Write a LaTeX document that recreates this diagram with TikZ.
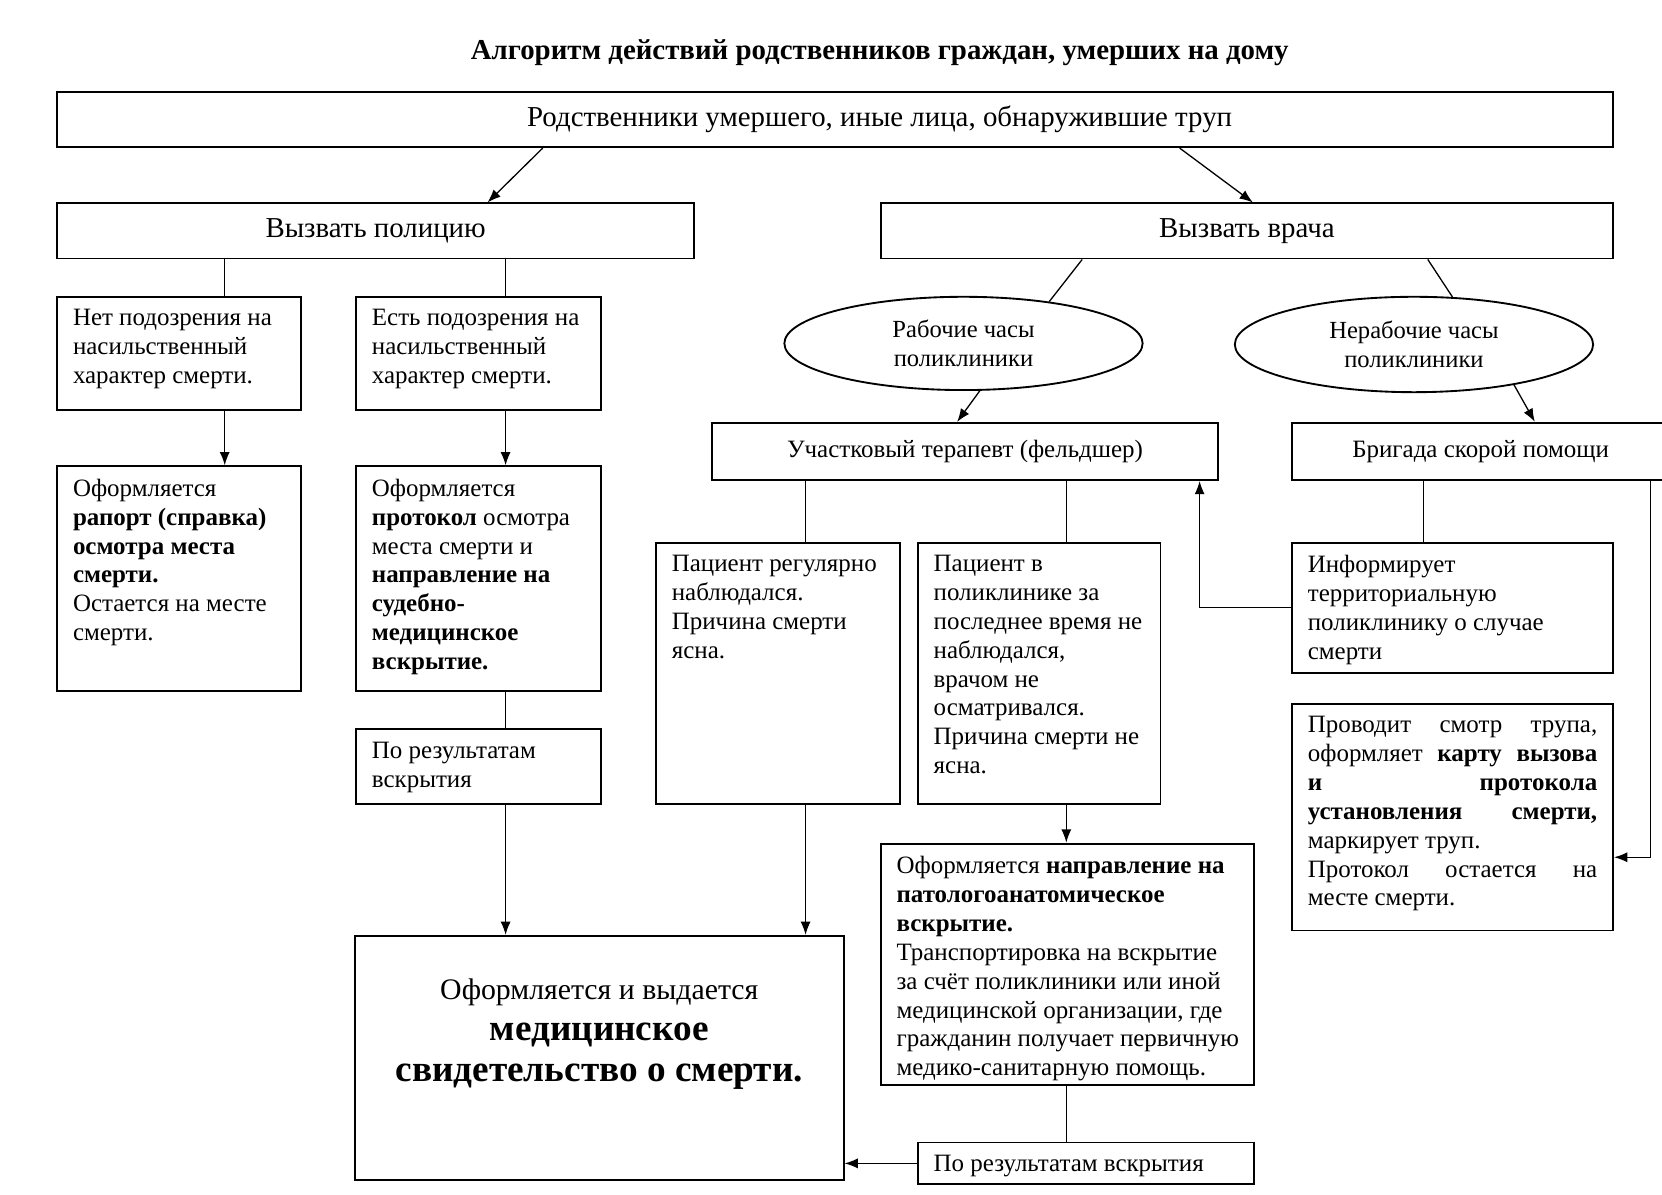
\documentclass[tikz,border=0pt]{standalone}
\usepackage{fontspec}
\setmainfont{Liberation Serif}
\usepackage{tikz}
\usetikzlibrary{shapes.geometric,calc,arrows.meta}

\newcommand{\boxtxt}[3]{\parbox[t][#2][t]{#1}{\raggedright\leftskip=3mm\rightskip=-3mm plus 1fil\relax #3}}
\newcommand{\jline}[1]{\makebox[54.6mm][s]{#1}}

\tikzset{
  block/.style={draw,line width=1pt,anchor=north west,inner xsep=0pt,inner ysep=2.4mm,font=\fontsize{13.4}{15.5}\selectfont},
  cblock/.style={draw,line width=1pt,anchor=north west,inner sep=0pt,font=\fontsize{15.5}{18}\selectfont},
  oval/.style={draw,ellipse,line width=1pt,inner sep=0pt,align=center,font=\fontsize{13.2}{15.8}\selectfont},
  arr/.style={line width=0.7pt,-{Latex[length=2.5mm,width=1.9mm]}},
  ln/.style={line width=0.7pt}
}

\begin{document}
\begin{tikzpicture}[x=0.2mm,y=-0.2mm]
\useasboundingbox (0,0) rectangle (1568,1127);
\clip (0,0) rectangle (1568,1127);

\node[font=\fontsize{15.5}{18}\selectfont\bfseries] (title) at (830,50) {Алгоритм действий родственников граждан, умерших на дому};

\node[cblock,minimum width=293.6mm,minimum height=10.4mm] (top) at (53,86) {\hspace*{16.8mm}Родственники умершего, иные лица, обнаружившие труп};
\node[cblock,minimum width=120.2mm,minimum height=10.4mm] (police) at (53,191) {Вызвать полицию};
\node[cblock,minimum width=138.2mm,minimum height=10.4mm] (doctor) at (830,191) {Вызвать врача};

% ветка полиции
\node[block] (nosusp) at (53,279) {\boxtxt{46mm}{16.6mm}{Нет подозрения на\\ насильственный\\ характер смерти.}};
\node[block] (susp) at (335,279) {\boxtxt{46.2mm}{16.6mm}{Есть подозрения на\\ насильственный\\ характер смерти.}};
\node[block] (report) at (53,439) {\boxtxt{46mm}{37.6mm}{Оформляется\\ \textbf{рапорт (справка)}\\ \textbf{осмотра места}\\ \textbf{смерти.}\\ Остается на месте\\ смерти.}};
\node[block] (protocol) at (335,439) {\boxtxt{46.2mm}{37.6mm}{Оформляется\\ \textbf{протокол} осмотра\\ места смерти и\\ \textbf{направление на}\\ \textbf{судебно-}\\ \textbf{медицинское}\\ \textbf{вскрытие.}}};
\node[block] (res1) at (335,687) {\boxtxt{46.2mm}{9.4mm}{По результатам\\ вскрытия}};
\node[block] (cert) at (334,882) {\boxtxt{92.2mm}{41.2mm}{\centering\vspace*{5.8mm}
  {\fontsize{16}{20}\selectfont Оформляется и выдается\par}
  {\fontsize{20}{22}\selectfont\bfseries медицинское\\ свидетельство о смерти.\par}}};

% ветка врача
\node[oval,minimum width=67.6mm,minimum height=17.6mm] (wk) at (909,324) {Рабочие часы\\ поликлиники};
\node[oval,minimum width=67.6mm,minimum height=18mm] (off) at (1334,325) {Нерабочие часы\\ поликлиники};
\node[cblock,font=\fontsize{13.4}{15.5}\selectfont,minimum width=95.4mm,minimum height=10.8mm] (ther) at (671,398) {Участковый терапевт (фельдшер)};
\node[cblock,font=\fontsize{13.4}{15.5}\selectfont,minimum width=71.2mm,minimum height=10.8mm] (amb) at (1218,398) {Бригада скорой помощи};
\node[block] (regular) at (618,511) {\boxtxt{46mm}{44.6mm}{Пациент регулярно\\ наблюдался.\\ Причина смерти\\ ясна.}};
\node[block] (notobs) at (865,511) {\boxtxt{45.8mm}{44.6mm}{Пациент в\\ поликлинике за\\ последнее время не\\ наблюдался,\\ врачом не\\ осматривался.\\ Причина смерти не\\ ясна.}};
\node[block] (patho) at (830,795) {\boxtxt{70.4mm}{40.8mm}{Оформляется \textbf{направление на}\\ \textbf{патологоанатомическое}\\ \textbf{вскрытие.}\\ Транспортировка на вскрытие\\ за счёт поликлиники или иной\\ медицинской организации, где\\ гражданин получает первичную\\ медико-санитарную помощь.}};
\node[block] (res2) at (865,1077) {\boxtxt{63.4mm}{2.2mm}{По результатам вскрытия}};
\node[block] (inform) at (1218,511) {\boxtxt{60.6mm}{19.8mm}{Информирует\\ территориальную\\ поликлинику о случае\\ смерти}};
\node[block] (exam) at (1218,663) {\boxtxt{60.6mm}{38mm}{\jline{Проводит смотр трупа,}\\
  \jline{оформляет \textbf{карту вызова}}\\
  \jline{\textbf{и протокола}}\\
  \jline{\textbf{установления смерти,}}\\
  маркирует труп.\\
  \jline{Протокол остается на}\\
  месте смерти.}};

% связи
\draw[arr] ($(top.south west)+(459,0)$) -- ($(police.north west)+(407,0)$);
\draw[arr] ($(top.south west)+(1060,0)$) -- ($(doctor.north west)+(352,0)$);
\draw[ln] ($(police.south west)+(159,0)$) -- ($(nosusp.north west)+(159,0)$);
\draw[ln] ($(police.south west)+(424,0)$) -- ($(susp.north west)+(142,0)$);
\draw[arr] ($(nosusp.south west)+(159,0)$) -- ($(report.north west)+(159,0)$);
\draw[arr] ($(susp.south west)+(142,0)$) -- ($(protocol.north west)+(142,0)$);
\draw[ln] ($(protocol.south west)+(142,0)$) -- ($(res1.north west)+(142,0)$);
\draw[arr] ($(res1.south west)+(142,0)$) -- ($(cert.north west)+(143,0)$);

\draw[ln] ($(doctor.south west)+(191,0)$) -- (wk.26);
\draw[ln] ($(doctor.south west)+(517,0)$) -- (off.51);
\draw[arr] (wk.289) -- ($(ther.north west)+(232,0)$);
\draw[arr] (off.338) -- ($(amb.north west)+(230,0)$);
\draw[ln] ($(ther.south west)+(89,0)$) -- ($(regular.north west)+(142,0)$);
\draw[ln] ($(ther.south west)+(335,0)$) -- ($(notobs.north west)+(141,0)$);
\draw[arr] ($(regular.south west)+(142,0)$) -- ($(cert.north west)+(426,0)$);
\draw[arr] ($(notobs.south west)+(141,0)$) -- ($(patho.north west)+(176,0)$);
\draw[ln] ($(patho.south west)+(176,0)$) -- ($(res2.north west)+(141,0)$);
\draw[arr] (res2.west) -- (res2.west -| cert.east);
\draw[ln] ($(amb.south west)+(125,0)$) -- ($(inform.north west)+(125,0)$);
\draw[arr] (inform.west) -| ($(ther.south east)+(-18,0)$);
\draw[arr] ($(amb.south west)+(339,0)$) |- ($(exam.south east)+(0,-70)$);
\end{tikzpicture}
\end{document}
